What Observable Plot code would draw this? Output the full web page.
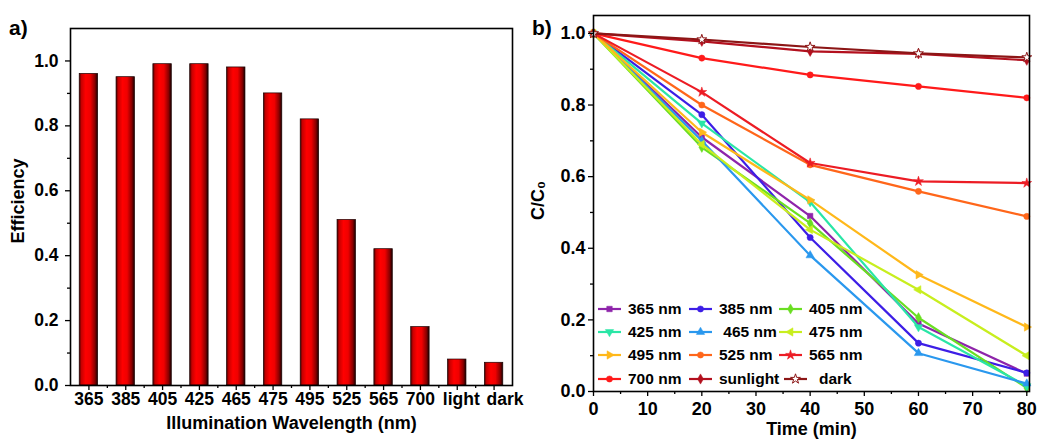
<!DOCTYPE html>
<html><head><meta charset="utf-8">
<script src="https://cdn.jsdelivr.net/npm/d3@7"></script>
<script src="https://cdn.jsdelivr.net/npm/@observablehq/plot@0.6"></script>
<style>
html,body{margin:0;padding:0;background:#fff;}
#wrap{position:relative;width:1037px;height:441px;overflow:hidden;font-family:"Liberation Sans",Arial,sans-serif;font-weight:bold;color:#000;}
.panel{position:absolute;top:0;}
.tag{position:absolute;font-size:21px;font-weight:bold;line-height:1;}
.lg{position:absolute;display:flex;align-items:center;font-size:15.5px;font-weight:bold;white-space:pre;line-height:1;}
.lg svg{overflow:visible;}
</style></head><body>
<div id="wrap">
 <div id="left" class="panel" style="left:0"></div>
 <div id="right" class="panel" style="left:520px"></div>
 <div class="tag" style="left:9px;top:17px">a)</div>
 <div class="tag" style="left:532px;top:17px">b)</div>
 <div id="legend"></div>
</div>
<script>
// ---------- Panel a data ----------
const wavelengths = ["365","385","405","425","465","475","495","525","565","700","light","dark"];
const efficiency = [0.96,0.95,0.99,0.99,0.98,0.90,0.82,0.51,0.42,0.18,0.08,0.07];
const effTicks = [0,0.2,0.4,0.6,0.8,1.0];
const effMinorTicks = [0.1,0.3,0.5,0.7,0.9];

// ---------- Panel b data ----------
const times = [0,20,40,60,80];
const c365 = [1,0.71,0.49,0.19,0.05];
const c385 = [1,0.773,0.43,0.135,0.052];
const c405 = [1,0.682,0.47,0.206,0.01];
const c425 = [1,0.749,0.529,0.18,0.015];
const c465 = [1,0.70,0.38,0.107,0.022];
const c475 = [1,0.69,0.452,0.284,0.10];
const c495 = [1,0.724,0.535,0.326,0.18];
const c525 = [1,0.80,0.633,0.559,0.489];
const c565 = [1,0.836,0.638,0.587,0.582];
const c700 = [1,0.931,0.884,0.852,0.82];
const cSunlight = [1,0.978,0.95,0.943,0.925];
const cDark = [1,0.983,0.962,0.944,0.933];
const seriesNames = ["365 nm","385 nm","405 nm","425 nm"," 465 nm","475 nm","495 nm","525 nm","565 nm","700 nm","sunlight","dark"];
const timeTicks = [0,10,20,30,40,50,60,70,80];
const timeMinorTicks = [5,15,25,35,45,55,65,75];
const ratioTicks = [0,0.2,0.4,0.6,0.8,1.0];
const ratioMinorTicks = [0.1,0.3,0.5,0.7,0.9];

// ---------- styles ----------
const FONT = "'Liberation Sans', Arial, sans-serif";
const seriesValues = [c365,c385,c405,c425,c465,c475,c495,c525,c565,c700,cSunlight,cDark];
const seriesColors = ["#8e24aa","#3d1ee6","#6ade22","#2ae6a6","#2a98ee","#c8ee1e","#ffb81a","#ff661a","#ec1c24","#ff1a1a","#b3101e","#8c1616"];
const seriesSymbols = ["square","circle","diamond","triangle","triangle","triangle","triangle","circle","star","circle","diamond","star"];
const seriesRotate = [0,0,0,180,0,-90,90,0,0,0,0,0];
const seriesFill = seriesColors.map((c,i)=> i===11 ? "#fff" : c);

// ---------- Panel a ----------
const idx = wavelengths.map((_, i) => i);
const left = Plot.plot({
  width: 530, height: 441,
  marginLeft: 70, marginRight: 18, marginTop: 28, marginBottom: 56,
  style: {fontFamily: FONT, fontWeight: "bold", fontSize: "17.5px", color: "#000", background: "transparent", overflow: "visible"},
  x: {type: "linear", domain: [-0.5, wavelengths.length - 0.5]},
  y: {domain: [0, 1.1]},
  marks: [
    Plot.rectY(efficiency, {x1: (d, i) => i - 0.25, x2: (d, i) => i + 0.25, y1: 0, y2: d => d,
      fill: "url(#barGrad)", stroke: "#1a0000", strokeWidth: 0.7}),
    Plot.axisY(effTicks, {tickSize: 5, tickPadding: 7, tickFormat: d3.format(".1f"), label: null, strokeWidth: 1.3}),
    Plot.axisY(effMinorTicks, {tickSize: 3, tickFormat: () => "", label: null, strokeWidth: 1.3}),
    Plot.axisX(idx, {tickSize: 5, tickFormat: () => "", label: null, strokeWidth: 1.3}),
    Plot.axisX(idx.slice(0, 10), {tickSize: 0, tickPadding: 7, tickFormat: i => wavelengths[i], label: null}),
    Plot.axisX(idx.slice(10, 11), {tickSize: 0, tickPadding: 7, tickFormat: i => wavelengths[i], label: null, dx: 4}),
    Plot.axisX(idx.slice(11), {tickSize: 0, tickPadding: 7, tickFormat: i => wavelengths[i], label: null, dx: 11}),
    Plot.axisX(idx.slice(1).map(i => i - 0.5), {tickSize: 3, tickFormat: () => "", label: null, strokeWidth: 1.3}),
    Plot.frame({stroke: "#000", strokeWidth: 1.6}),
    Plot.text(["Efficiency"], {text: d => d, frameAnchor: "left", textAnchor: "middle", lineAnchor: "middle", rotate: -90, dx: -52, dy: -6, fontSize: 18}),
    Plot.text(["Illumination Wavelength (nm)"], {text: d => d, frameAnchor: "bottom", dy: 43, fontSize: 18})
  ]
});
d3.select(left).insert("defs", ":first-child").html(
  `<linearGradient id="barGrad" x1="0" x2="1" y1="0" y2="0">
     <stop offset="0" stop-color="#4a0000"/>
     <stop offset="0.12" stop-color="#c80000"/>
     <stop offset="0.35" stop-color="#ff0000"/>
     <stop offset="0.6" stop-color="#f00000"/>
     <stop offset="0.85" stop-color="#8a0000"/>
     <stop offset="1" stop-color="#1a0000"/>
   </linearGradient>`);
document.getElementById("left").appendChild(left);

// ---------- Panel b ----------
const seriesMarks = seriesValues.flatMap((vals, s) => {
  const data = times.map((t, i) => ({t, v: vals[i]}));
  return [
    Plot.line(data, {x: "t", y: "v", stroke: seriesColors[s], strokeWidth: 2.2}),
    Plot.dot(data, {x: "t", y: "v", symbol: seriesSymbols[s], rotate: seriesRotate[s], r: 3.1,
      fill: seriesFill[s], stroke: seriesColors[s], strokeWidth: s === 11 ? 1 : 0.5})
  ];
});
const right = Plot.plot({
  width: 517, height: 441,
  marginLeft: 73, marginRight: 8, marginTop: 15, marginBottom: 50,
  style: {fontFamily: FONT, fontWeight: "bold", fontSize: "18px", color: "#000", background: "transparent", overflow: "visible"},
  x: {domain: [0, 80.5]},
  y: {domain: [0, 1.05]},
  marks: [
    ...seriesMarks,
    Plot.axisY(ratioTicks, {tickSize: 5, tickPadding: 3, tickFormat: d3.format(".1f"), label: null, strokeWidth: 1.3}),
    Plot.axisY(ratioMinorTicks, {tickSize: 3, tickFormat: () => "", label: null, strokeWidth: 1.3}),
    Plot.axisX(timeTicks, {tickSize: 5, tickPadding: 6, label: null, strokeWidth: 1.3}),
    Plot.axisX(timeMinorTicks, {tickSize: 3, tickFormat: () => "", label: null, strokeWidth: 1.3}),
    Plot.frame({stroke: "#000", strokeWidth: 1.6}),
    Plot.text(["C/C\u2080"], {text: d => d, frameAnchor: "left", textAnchor: "middle", lineAnchor: "middle", rotate: -90, dx: -55, dy: -3, fontSize: 18}),
    Plot.text(["Time (min)"], {text: d => d, frameAnchor: "bottom", dy: 43, fontSize: 18})
  ]
});
document.getElementById("right").appendChild(right);

// ---------- Legend (inside panel b) ----------
const symMap = {square: d3.symbolSquare, circle: d3.symbolCircle, diamond: d3.symbolDiamond, triangle: d3.symbolTriangle, star: d3.symbolStar};
const lgRows = [309, 332, 355, 379];
const lgCols = [598, 689, 779];
const lgTextGap = [7, 7, 7, 7, 7, 7, 7, 7, 7, 7, 7, 12];
const lgShift = [0, 0, 0, 0, 0, 0, 0, 0, 0, 0, 0, 5];
const legend = document.getElementById("legend");
seriesNames.forEach((name, s) => {
  const row = Math.floor(s / 3), col = s % 3;
  const div = document.createElement("div");
  div.className = "lg";
  div.style.left = (lgCols[col] + lgShift[s]) + "px";
  div.style.top = (lgRows[row] - 9) + "px";
  div.style.height = "18px";
  const path = d3.symbol(symMap[seriesSymbols[s]], 3.1 * 3.1 * Math.PI)();
  div.innerHTML = `<svg width="23" height="18" style="margin-right:${lgTextGap[s]}px"><line x1="0" x2="23" y1="9" y2="9" stroke="${seriesColors[s]}" stroke-width="2.2"/>` +
    `<path d="${path}" transform="translate(11.5,9) rotate(${seriesRotate[s]})" fill="${seriesFill[s]}" stroke="${seriesColors[s]}" stroke-width="${s === 11 ? 1 : 0.5}"/></svg>` +
    `<span>${name}</span>`;
  legend.appendChild(div);
});
</script>
</body></html>
